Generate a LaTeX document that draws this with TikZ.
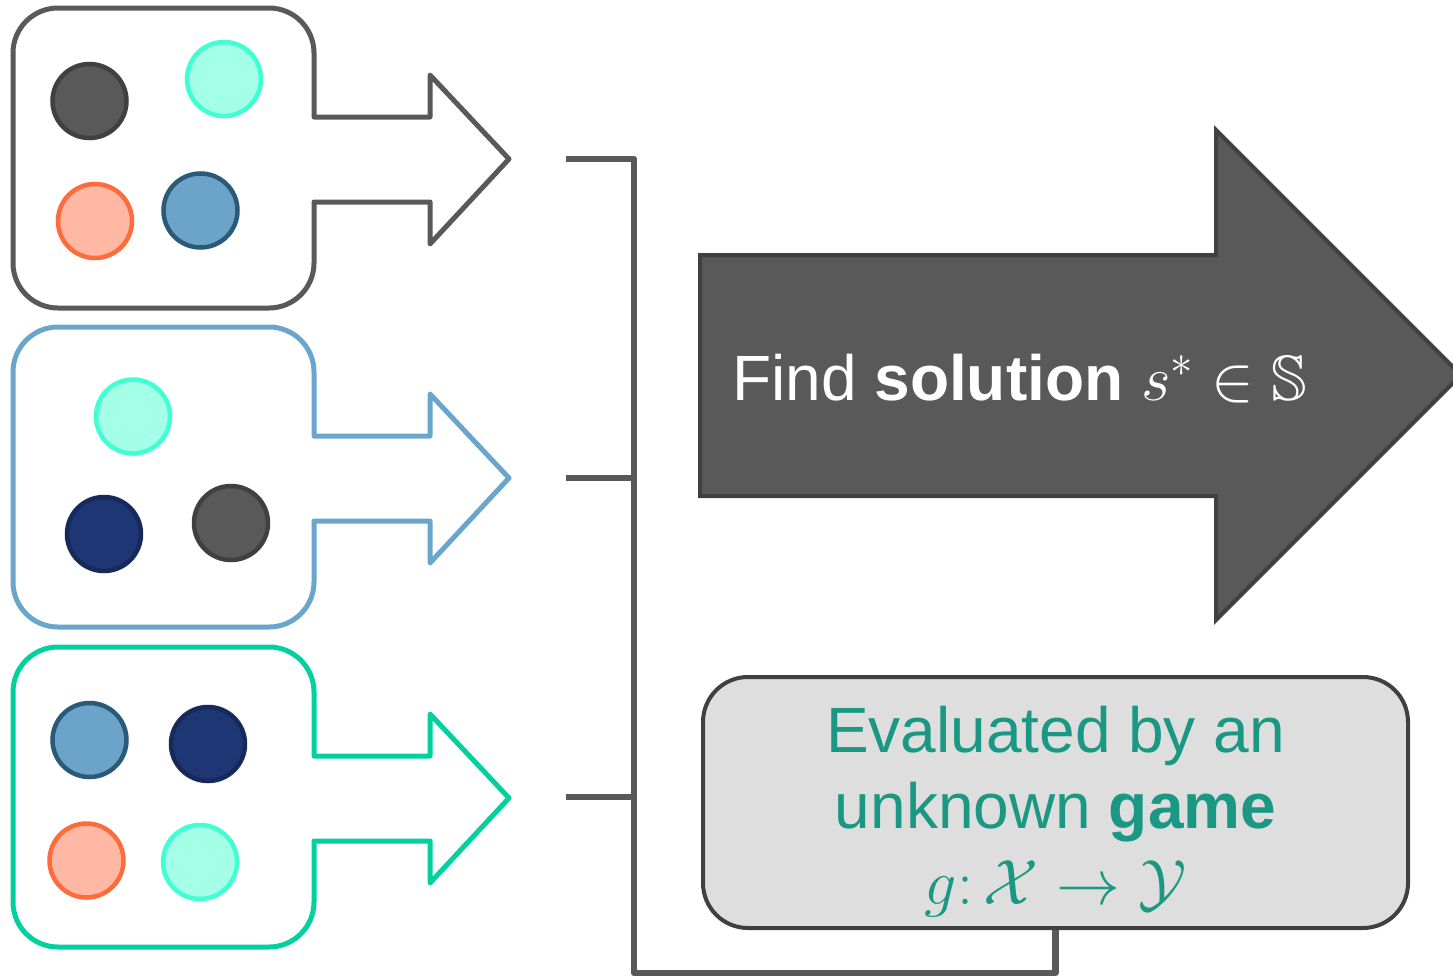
\RequirePackage{fix-cm}
\documentclass[tikz,border=0pt]{standalone}
\usepackage{amssymb}
\usepackage{fontspec}
\setmainfont{Liberation Sans}
\definecolor{gdark}{HTML}{595959}
\definecolor{gdarker}{HTML}{404040}
\definecolor{gblue}{HTML}{6AA6CC}
\definecolor{ggreen}{HTML}{02D19F}
\definecolor{cyanfill}{HTML}{A3FFE6}
\definecolor{cyanline}{HTML}{40FFD2}
\definecolor{orfill}{HTML}{FFB8A3}
\definecolor{orline}{HTML}{FF6B3B}
\definecolor{blfill}{HTML}{6BA4C8}
\definecolor{blline}{HTML}{2B5A78}
\definecolor{nvfill}{HTML}{1E3673}
\definecolor{nvline}{HTML}{16295A}
\definecolor{teal}{HTML}{1A9884}
\definecolor{lgray}{HTML}{DEDEDE}
\tikzset{
  grp/.style={line width=5pt, line join=round, fill=white},
  grp1/.style={grp, draw=gdark},
  grp2/.style={grp, draw=gblue},
  grp3/.style={grp, draw=ggreen},
  dot/.style={circle, minimum size=74pt, inner sep=0pt, line width=4.5pt},
  dkdot/.style={dot, fill=gdark, draw=gdarker},
  cydot/.style={dot, fill=cyanfill, draw=cyanline},
  ordot/.style={dot, fill=orfill, draw=orline},
  bldot/.style={dot, fill=blfill, draw=blline},
  nvdot/.style={dot, fill=nvfill, draw=nvline},
  conn/.style={draw=gdark, line width=6.5pt, line join=round},
  bigarrow/.style={fill=gdark, draw=gdarker, line width=4pt, line join=miter},
  evalbox/.style={rectangle, rounded corners=45pt, fill=lgray, draw=gdarker, line width=4pt, minimum width=705pt, minimum height=251pt, inner sep=0pt},
  evaltext/.style={text=teal, font=\fontsize{64}{76}\selectfont, inner sep=0pt, anchor=base},
}
\begin{document}
\begin{tikzpicture}[x=1pt,y=-1pt]
\useasboundingbox (0,0) rectangle (1453,977);
% groups with outgoing arrows
\foreach \oy/\st in {0/grp1, 319/grp2, 639/grp3} {
  \begin{scope}[shift={(0,\oy)}]
    \draw[\st] (314,117) -- (430,117) -- (430,75) -- (509,159) -- (430,244) -- (430,202) -- (314,202)
      [rounded corners=45pt] -- (314,308) -- (13,308) -- (13,8) -- (314,8) [sharp corners] -- cycle;
  \end{scope}
}
% circles group 1
\node[dkdot] (a1) at (89.5,101) {};
\node[cydot] (a2) at (224,79) {};
\node[ordot] (a3) at (95,221) {};
\node[bldot] (a4) at (200.5,210.5) {};
% circles group 2
\node[cydot] (b1) at (133,416.5) {};
\node[nvdot] (b2) at (104,534) {};
\node[dkdot] (b3) at (231,523) {};
% circles group 3
\node[bldot] (c1) at (89.5,740) {};
\node[nvdot] (c2) at (208,744) {};
\node[ordot] (c3) at (86.5,860.5) {};
\node[cydot] (c4) at (200,862) {};
% big arrow
\draw[bigarrow] (700,255) -- (1216,255) -- (1216,130) -- (1461,375) -- (1216,620) -- (1216,496) -- (700,496) -- cycle;
\node[anchor=base west, inner sep=0pt, text=white, font=\fontsize{64}{76}\selectfont] (find) at (732,400) {Find \textbf{solution} $s^{*}\in\mathbb{S}$};
% evaluation box
\node[evalbox] (eval) at (1055.5,802.5) {};
\node[evaltext] (e1) at (1055.5,752) {Evaluated by an};
\node[evaltext] (e2) at (1055.5,828) {unknown \textbf{game}};
\node[evaltext] (e3) at (1055.5,904) {$g\colon\mathcal{X}\to\mathcal{Y}$};
% bracket connector
\coordinate (j1) at (566,159);
\coordinate (j2) at (566,478);
\coordinate (j3) at (566,797);
\coordinate (bus) at (634,973);
\draw[conn] (j1) -| (bus) -| (eval.south);
\draw[conn] (j2) -- (j2 -| bus);
\draw[conn] (j3) -- (j3 -| bus);
\end{tikzpicture}
\end{document}
